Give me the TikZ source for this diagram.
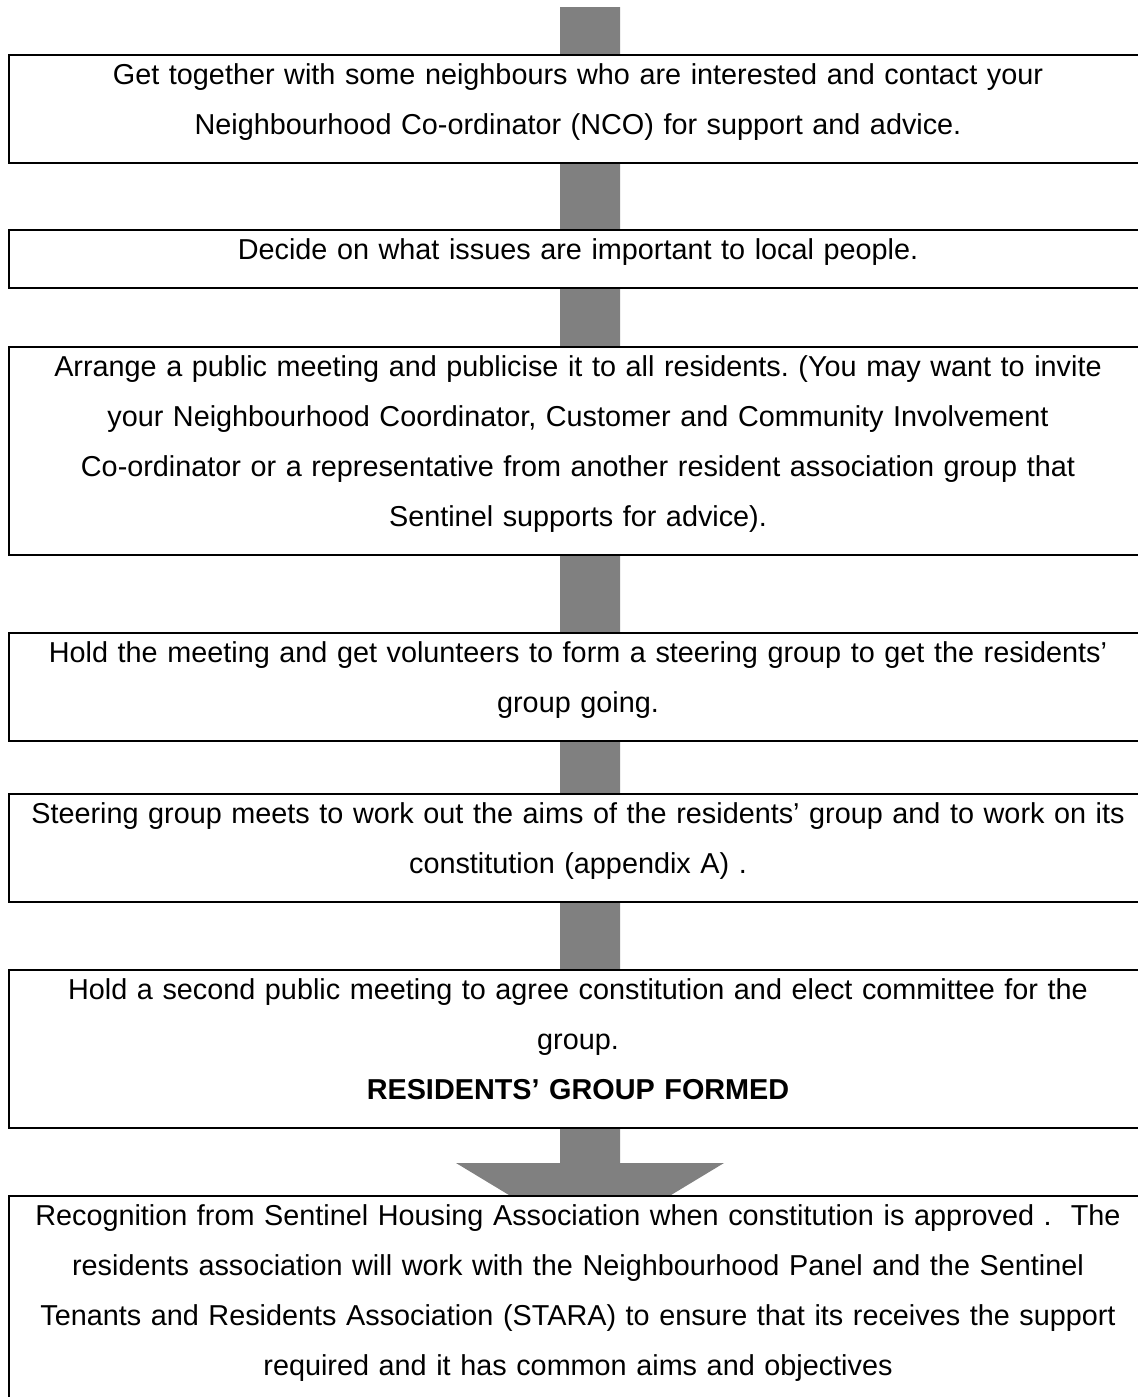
\documentclass[tikz,border=0pt]{standalone}
\usepackage{fontspec}
\setmainfont{Liberation Sans}
\frenchspacing
\definecolor{arrowgray}{HTML}{808080}
\begin{document}
\begin{tikzpicture}[x=0.5pt,y=-0.5pt,
  box/.style={draw=black, line width=1pt, fill=white, minimum width=569pt, anchor=north west, inner sep=0pt},
  txt/.style={anchor=base, inner sep=0pt, align=center, text width=600pt, font=\fontsize{14.4}{25}\selectfont},
]
\useasboundingbox (0,0) rectangle (1138,1397);
\clip (0,0) rectangle (1138,1397);

% big arrow behind the boxes
\coordinate (atop) at (590,7);
\coordinate (abase) at (590,1163);
\coordinate (atip) at (590,1244);
\fill[arrowgray] ([xshift=-15pt]atop) -- ([xshift=15pt]atop) -- ([xshift=15pt]abase)
  -- ([xshift=67pt]abase) -- (atip) -- ([xshift=-67pt]abase) -- ([xshift=-15pt]abase) -- cycle;

% boxes
\node[box, minimum height=54pt]  (b1) at (8,54) {};
\node[box, minimum height=29pt]  (b2) at (8,229) {};
\node[box, minimum height=104pt] (b3) at (8,346) {};
\node[box, minimum height=54pt]  (b4) at (8,632) {};
\node[box, minimum height=54pt]  (b5) at (8,793) {};
\node[box, minimum height=79pt]  (b6) at (8,969) {};
\node[box, minimum height=104pt] (b7) at (8,1195) {};

% texts
\node[txt] (t1) at ([yshift=-15pt]b1.north) {Get together with some neighbours who are interested and contact your\\Neighbourhood Co-ordinator (NCO) for support and advice.};
\node[txt] (t2) at ([yshift=-15pt]b2.north) {Decide on what issues are important to local people.};
\node[txt] (t3) at ([yshift=-15pt]b3.north) {Arrange a public meeting and publicise it to all residents. (You may want to invite\\your Neighbourhood Coordinator, Customer and Community Involvement\\Co-ordinator or a representative from another resident association group that\\Sentinel supports for advice).};
\node[txt] (t4) at ([yshift=-15pt]b4.north) {Hold the meeting and get volunteers to form a steering group to get the residents’\\group going.};
\node[txt] (t5) at ([yshift=-15pt]b5.north) {Steering group meets to work out the aims of the residents’ group and to work on its\\constitution (appendix A) .};
\node[txt] (t6) at ([yshift=-15pt]b6.north) {Hold a second public meeting to agree constitution and elect committee for the\\group.\\{\bfseries RESIDENTS’ GROUP FORMED}};
\node[txt] (t7) at ([yshift=-15pt]b7.north) {Recognition from Sentinel Housing Association when constitution is approved .\ \ The\\residents association will work with the Neighbourhood Panel and the Sentinel\\Tenants and Residents Association (STARA) to ensure that its receives the support\\required and it has common aims and objectives};
\end{tikzpicture}
\end{document}
